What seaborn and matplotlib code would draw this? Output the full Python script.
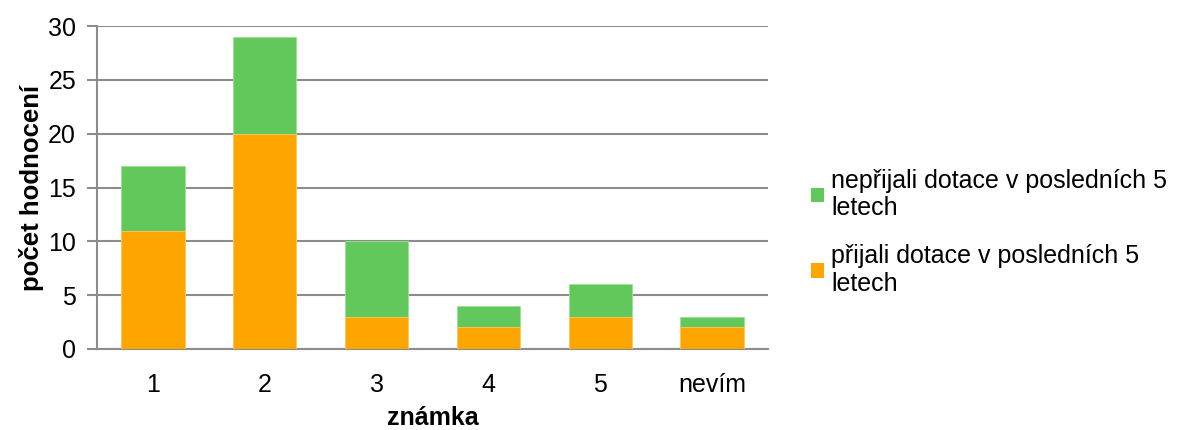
import matplotlib
matplotlib.use("Agg")
import matplotlib.pyplot as plt
import seaborn as sns
import pandas as pd
from matplotlib.patches import Patch

categories = ["1", "2", "3", "4", "5", "nevím"]
prijali = [11, 20, 3, 2, 3, 2]
neprijali = [6, 9, 7, 2, 3, 1]

label_neprijali = "nepřijali dotace v posledních 5\nletech"
label_prijali = "přijali dotace v posledních 5\nletech"

green = "#62C85C"
orange = "#FFA500"
grid_col = "#8C8C8C"

sns.set_theme(style="white")
plt.rcParams["font.family"] = ["Liberation Sans", "DejaVu Sans"]

df = pd.DataFrame({
    "znamka": categories,
    "prijali": prijali,
    "neprijali": neprijali,
})
df["celkem"] = df["prijali"] + df["neprijali"]

fig = plt.figure(figsize=(11.91, 4.30), dpi=100)
ax = fig.add_axes([0.0814, 0.1884, 0.5635, 0.7511])

# stacked bars: total height in green, lower part overdrawn in orange
sns.barplot(data=df, x="znamka", y="celkem", color=green, width=0.567,
            saturation=1, ax=ax, zorder=3, edgecolor="#9EE09A", linewidth=0.6)
sns.barplot(data=df, x="znamka", y="prijali", color=orange, width=0.567,
            saturation=1, ax=ax, zorder=4, edgecolor="#FFC966", linewidth=0.6)

ax.set_xlim(-0.5, len(categories) - 0.5)
ax.set_ylim(0, 30)
ax.set_yticks(range(0, 31, 5))
ax.yaxis.grid(True, color=grid_col, linewidth=1.5, zorder=0)
ax.set_axisbelow(True)

for side in ("top", "right"):
    ax.spines[side].set_visible(False)
ax.spines["left"].set_color(grid_col)
ax.spines["left"].set_linewidth(1.5)
ax.spines["bottom"].set_color(grid_col)
ax.spines["bottom"].set_linewidth(1.5)

fs = 18
ax.tick_params(axis="y", which="major", left=True, length=7, width=1.5,
               color=grid_col, labelsize=fs, pad=8, labelcolor="black")
ax.tick_params(axis="x", which="major", bottom=False, labelsize=fs, pad=11,
               labelcolor="black")

ax.set_xlabel("známka", fontsize=fs, fontweight="bold", labelpad=7,
              color="black")
ax.set_ylabel("počet hodnocení", fontsize=18.5, fontweight="bold", labelpad=3,
              color="black")

handles = [Patch(facecolor=green, edgecolor="none", label=label_neprijali),
           Patch(facecolor=orange, edgecolor="none", label=label_prijali)]
fig.legend(handles=handles, loc="center left", bbox_to_anchor=(0.681, 0.46),
           frameon=False, fontsize=fs, handlelength=0.5, handleheight=0.5,
           handletextpad=0.3, labelspacing=0.95, borderpad=0,
           borderaxespad=0, labelcolor="black")

fig.savefig("out.png", dpi=100)
